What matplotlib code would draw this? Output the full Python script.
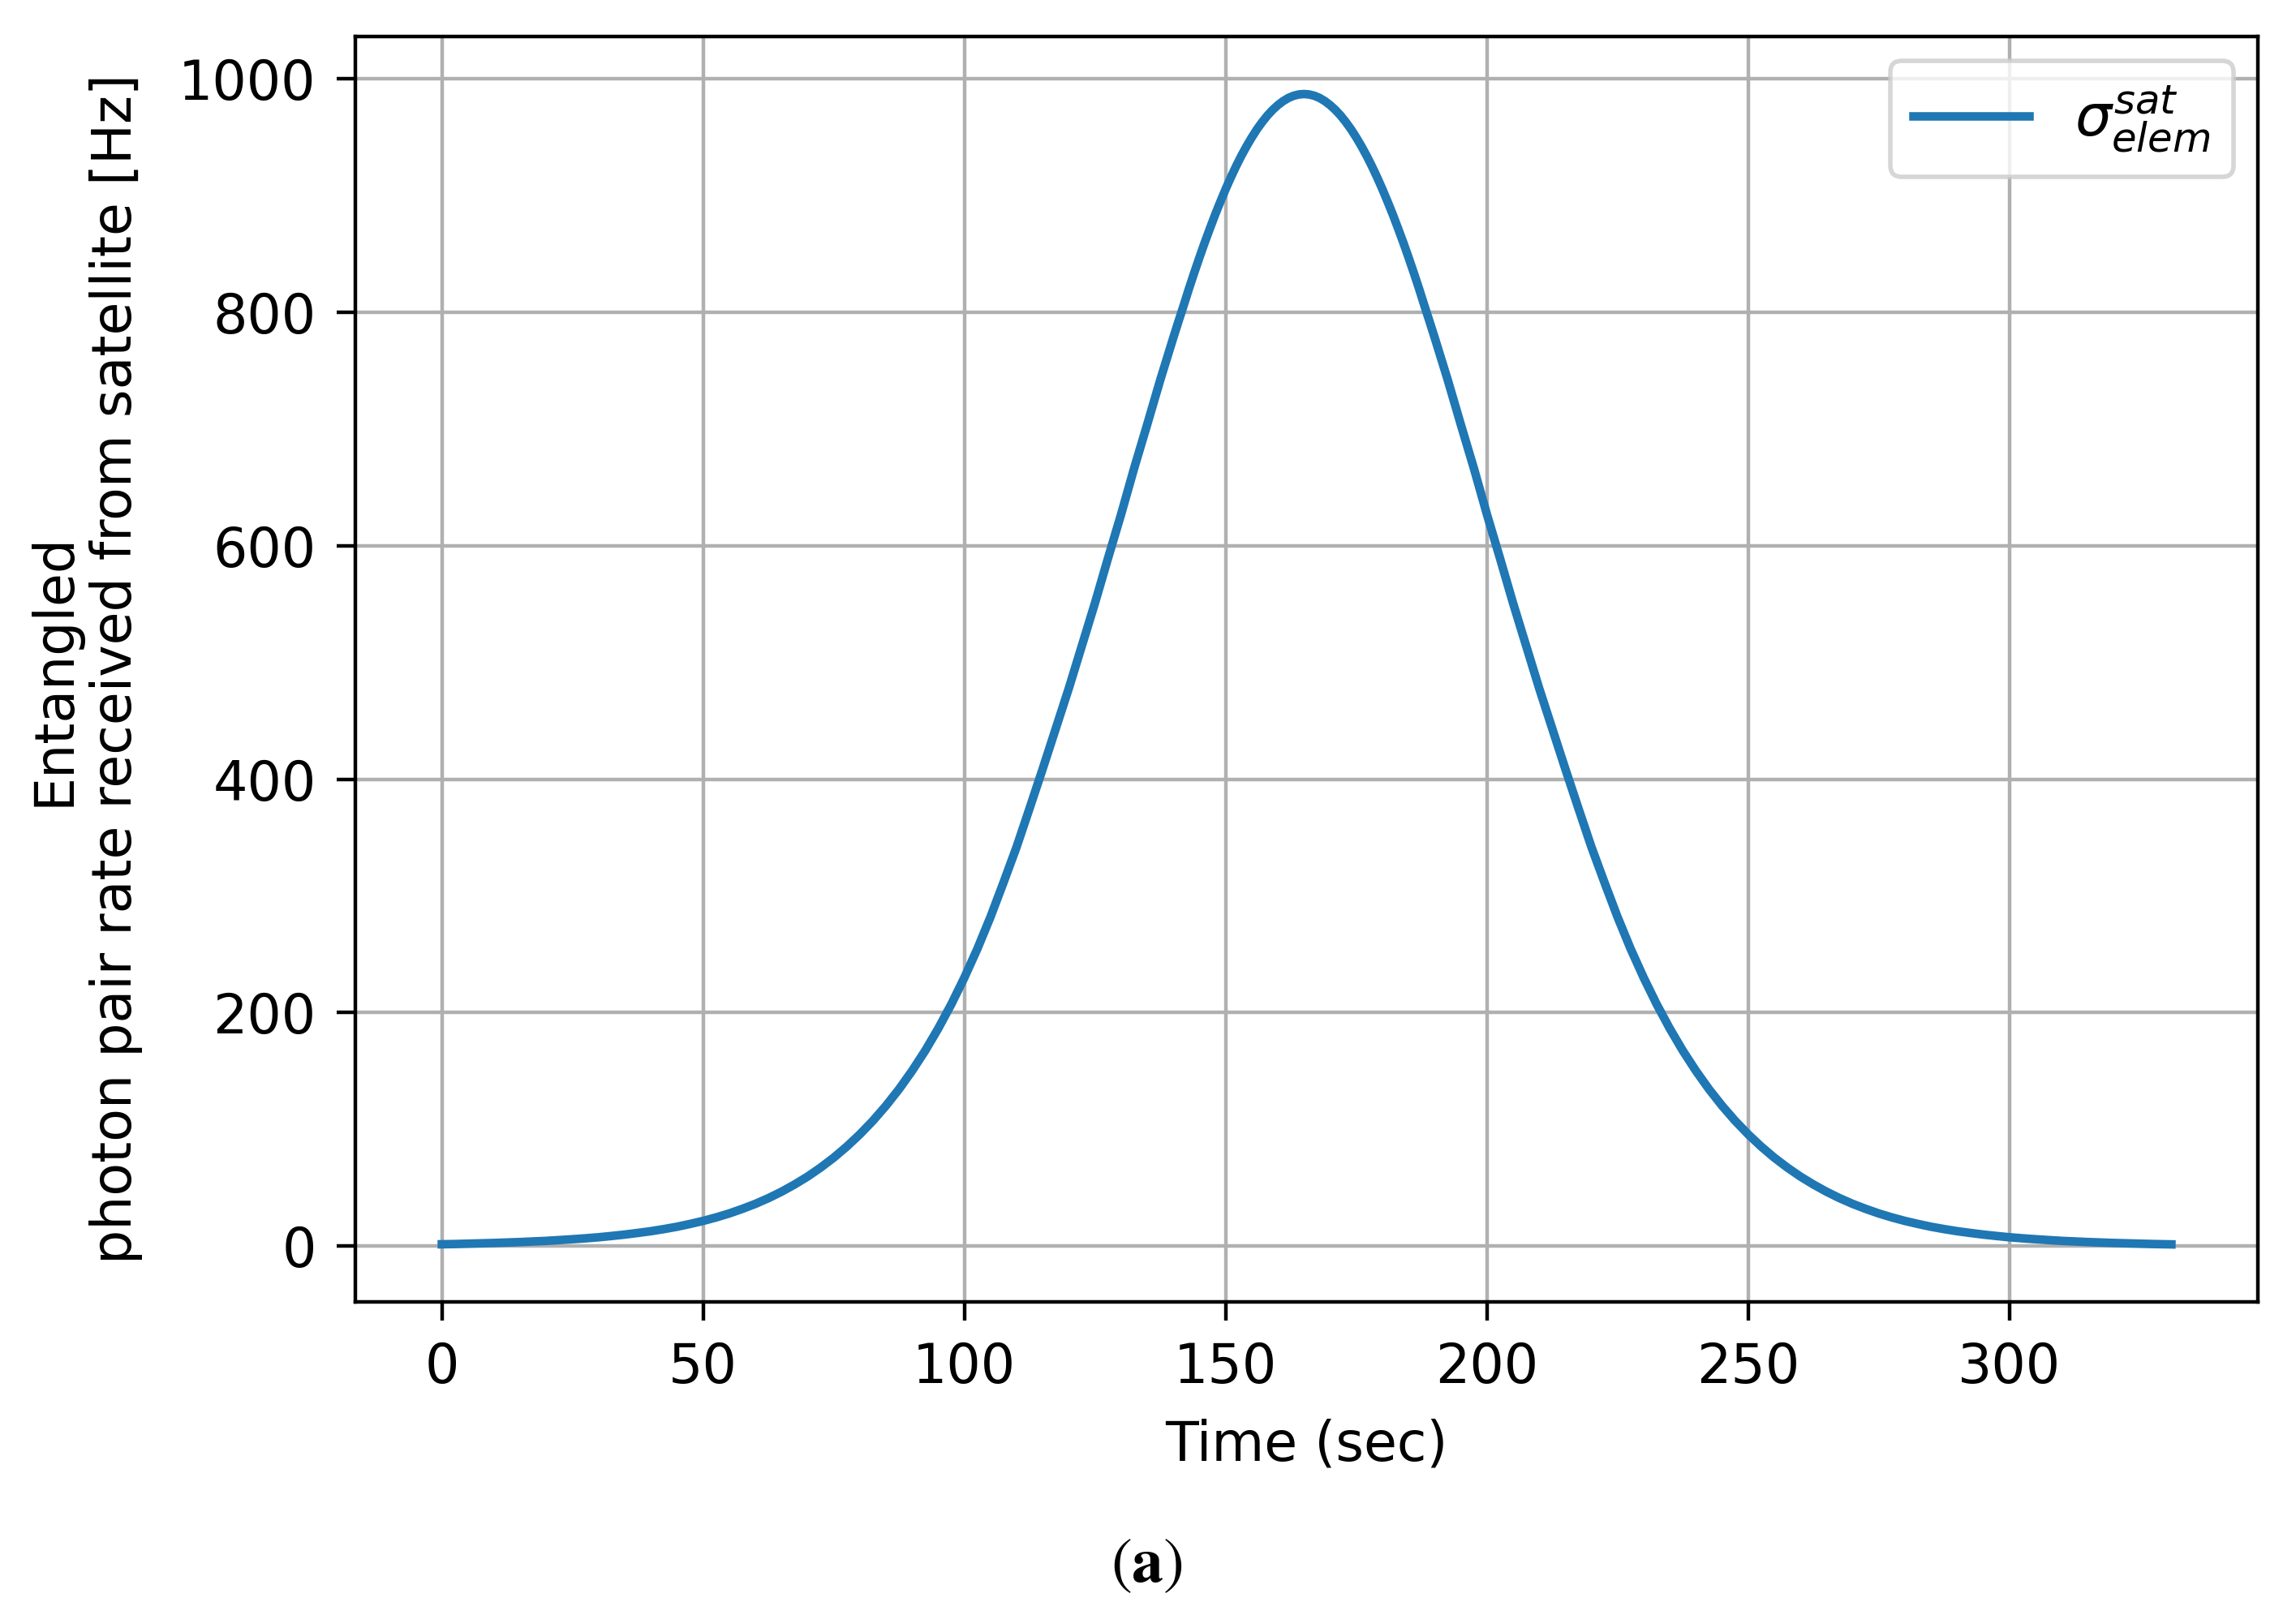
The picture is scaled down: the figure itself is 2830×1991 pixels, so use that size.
import matplotlib
matplotlib.use("Agg")
import matplotlib.pyplot as plt

# Data (finer sampling near the peak)
time_s = [0, 2.5, 5, 7.5, 10, 12.5, 15, 17.5, 20, 22.5, 25, 27.5, 30, 32.5, 35, 37.5,
          40, 42.5, 45, 47.5, 50, 52.5, 55, 57.5, 60, 62.5, 65, 67.5, 70, 72.5, 75, 77.5,
          80, 82.5, 85, 87.5, 90, 92.5, 95, 97.5, 100, 102.5, 105, 107.5, 110, 112.5,
          115, 117.5, 120, 122.5, 125, 127.5, 130, 132.5, 135, 137.5,
          140, 141, 142, 143, 144, 145, 146, 147, 148, 149, 150, 151, 152, 153, 154,
          155, 156, 157, 158, 159, 160, 161, 162, 163, 164, 165, 166, 167, 168, 169,
          170, 171, 172, 173, 174, 175, 176, 177, 178, 179, 180, 181, 182, 183, 184,
          185, 186, 187, 188, 189, 190,
          192.5, 195, 197.5, 200, 202.5, 205, 207.5, 210, 212.5, 215, 217.5, 220,
          222.5, 225, 227.5, 230, 232.5, 235, 237.5, 240, 242.5, 245, 247.5, 250,
          252.5, 255, 257.5, 260, 262.5, 265, 267.5, 270, 272.5, 275, 277.5, 280,
          282.5, 285, 287.5, 290, 292.5, 295, 297.5, 300, 302.5, 305, 307.5, 310,
          312.5, 315, 317.5, 320, 322.5, 325, 327.5, 330, 331]
rate_hz = [1.6, 1.8, 2.1, 2.4, 2.7, 3.1, 3.5, 4.0, 4.5, 5.2, 5.9, 6.7, 7.6, 8.7, 9.9, 11.3,
           12.8, 14.6, 16.6, 19.0, 21.6, 24.6, 28.0, 31.9, 36.2, 41.1, 46.6, 52.8, 59.6,
           67.3, 75.8, 85.3, 95.8, 107.4, 120.3, 134.5, 150.2, 167.4, 186.4, 207.2, 230.0,
           254.8, 282, 311.6, 342, 375.3, 409, 443.4, 478, 514.6, 551, 589.4, 627, 666.5,
           704, 742.2,
           778.4, 792.5, 806.3, 820.5, 834.0, 847.1, 859.8, 871.9, 883.7, 894.8, 905.5,
           915.6, 925.1, 934.0, 942.2, 949.8, 956.8, 963.0, 968.6, 973.4, 977.5, 980.9,
           983.6, 985.5, 986.6, 987, 986.6, 985.5, 983.6, 980.9, 977.5, 973.4, 968.6,
           963.0, 956.8, 949.8, 942.2, 934.0, 925.1, 915.6, 905.5, 894.8, 883.7, 871.9,
           859.8, 847.1, 834.0, 820.5, 806.3, 792.5, 778.4,
           742.2, 704, 666.5, 627, 589.4, 551, 514.6, 478, 443.4, 409, 375.3, 342,
           311.6, 282, 254.8, 230.0, 207.2, 186.4, 167.4, 150.2, 134.5, 120.3, 107.4,
           95.8, 85.3, 75.8, 67.3, 59.6, 52.8, 46.6, 41.1, 36.2, 31.9, 28.0, 24.6,
           21.6, 19.0, 16.6, 14.6, 12.8, 11.3, 9.9, 8.7, 7.6, 6.7, 5.9, 5.2, 4.5, 4.0,
           3.5, 3.1, 2.7, 2.4, 2.1, 1.8, 1.6, 1.5]
series_label = r'$\sigma_{elem}^{sat}$'
x_label = "Time (sec)"
y_label = "Entangled\nphoton pair rate received from satellite [Hz]"
panel_label = r'$(\mathbf{a})$'
x_ticks = [0, 50, 100, 150, 200, 250, 300]
y_ticks = [0, 200, 400, 600, 800, 1000]

DPI = 400
fig = plt.figure(figsize=(2830 / DPI, 1991 / DPI), dpi=DPI)
ax = fig.add_axes([438 / 2830, 1 - 1605 / 1991, (2783 - 438) / 2830, (1605 - 45) / 1991])

ax.plot(time_s, rate_hz, color="#1f77b4", lw=1.9, label=series_label)
ax.grid(True, color="#b0b0b0", lw=0.8)
ax.set_xticks(x_ticks)
ax.set_yticks(y_ticks)
ax.tick_params(labelsize=12, length=4.2, pad=4.5)
ax.set_xlabel(x_label, fontsize=12, labelpad=5.3)
ax.set_ylabel(y_label, fontsize=12, labelpad=8)
ax.legend(loc="upper right", fontsize=12.8, borderaxespad=0.42)

fig.text(0.4993, 0.0316, panel_label, ha="center", va="center", fontsize=14,
         math_fontfamily="stix")

fig.savefig("out.png", dpi=DPI)
